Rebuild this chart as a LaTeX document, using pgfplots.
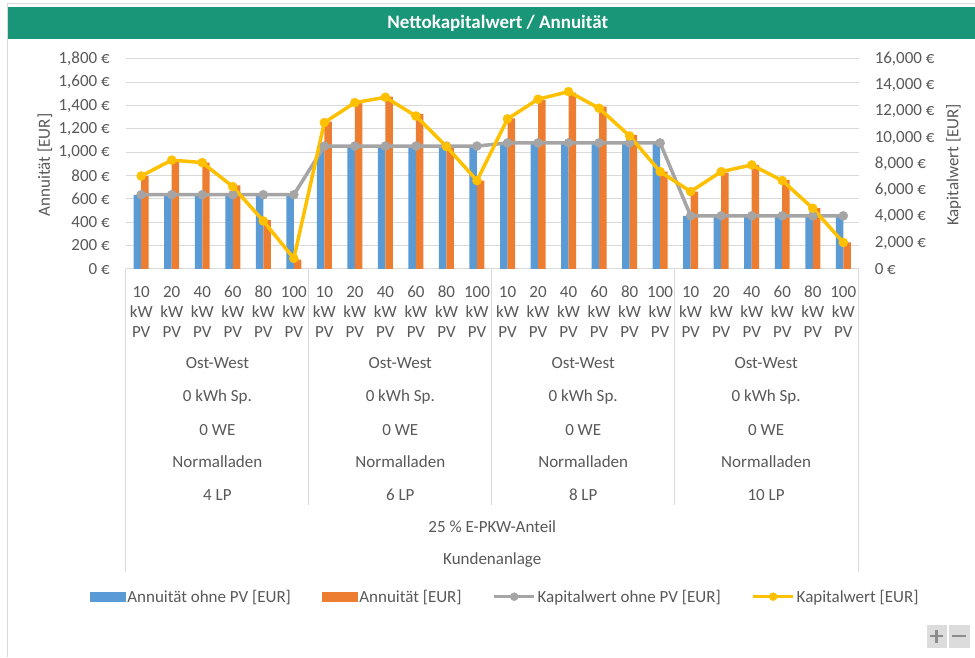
\documentclass[border=0pt]{standalone}
\usepackage{fontspec}
\setmainfont{Carlito}
\usepackage{pgfplots}
\usepackage{pgfplotstable}
\pgfplotsset{compat=1.18}
\definecolor{blueC}{HTML}{5B9BD5}
\definecolor{orangeC}{HTML}{ED7D31}
\definecolor{grayC}{HTML}{A5A5A5}
\definecolor{yellowC}{HTML}{FFC000}
\definecolor{gridC}{HTML}{D9D9D9}
\definecolor{textC}{HTML}{595959}
\definecolor{titleC}{HTML}{199678}
\definecolor{btnC}{HTML}{DCDCDC}
\definecolor{btnG}{HTML}{8C8C8C}

\pgfplotstableread{
idx blue orange gray yellow
0 635 795 5650 7080
1 635 932 5650 8290
2 635 912 5650 8100
3 635 715 5650 6270
4 635 418 5650 3650
5 635 80 5650 800
6 1053 1262 9360 11150
7 1053 1422 9360 12670
8 1053 1477 9360 13080
9 1053 1329 9360 11650
10 1053 1049 9360 9320
11 1053 757 9360 6730
12 1080 1291 9600 11430
13 1080 1449 9600 12930
14 1080 1511 9600 13510
15 1080 1391 9600 12240
16 1080 1149 9600 10130
17 1080 834 9600 7410
18 454 663 4040 5890
19 454 826 4040 7410
20 454 891 4040 7920
21 454 763 4040 6730
22 454 520 4040 4620
23 454 226 4040 2010
}\datatable

\newcommand{\fs}{\fontsize{17}{20}\selectfont}

\begin{document}
\begin{tikzpicture}[x=1pt,y=1pt]
\path[fill=white] (0,0) rectangle (975,657);
\fill[titleC] (7,618) rectangle (975,650);
\draw[gridC,line width=1pt] (7.5,0) -- (7.5,653.5) -- (975,653.5);
\node[text=white, font=\fontsize{19}{22}\selectfont\bfseries] at (498,634) {Nettokapitalwert / Annuität};

\begin{axis}[
  at={(126pt,388pt)}, anchor=south west,
  scale only axis, width=733pt, height=210pt,
  xmin=-0.5, xmax=23.5, ymin=0, ymax=1800,
  ytick={0,200,...,1800},
  xtick={0,...,23},
  xticklabels={{10\\kW\\PV},{20\\kW\\PV},{40\\kW\\PV},{60\\kW\\PV},{80\\kW\\PV},{100\\kW\\PV},
               {10\\kW\\PV},{20\\kW\\PV},{40\\kW\\PV},{60\\kW\\PV},{80\\kW\\PV},{100\\kW\\PV},
               {10\\kW\\PV},{20\\kW\\PV},{40\\kW\\PV},{60\\kW\\PV},{80\\kW\\PV},{100\\kW\\PV},
               {10\\kW\\PV},{20\\kW\\PV},{40\\kW\\PV},{60\\kW\\PV},{80\\kW\\PV},{100\\kW\\PV}},
  xticklabel style={align=center, anchor=north, inner sep=0pt, yshift=-17pt, font=\fs, text=textC},
  yticklabel style={anchor=east, inner sep=0pt, xshift=-16pt, font=\fs, text=textC},
  /pgf/number format/assume math mode=true,
  /pgf/number format/1000 sep={,},
  scaled y ticks=false,
  yticklabel={\pgfmathprintnumber{\tick}~€},
  major tick length=0pt, tick style={draw=none},
  axis x line*=bottom, axis y line*=left,
  separate axis lines,
  x axis line style={draw=gridC, line width=1pt},
  y axis line style={draw=none},
  ymajorgrids, grid style={gridC, line width=1pt},
  ybar=0pt, bar width=7.5pt,
]
\addplot[fill=blueC, draw=none] table[x=idx, y=blue] {\datatable};
\addplot[fill=orangeC, draw=none] table[x=idx, y=orange] {\datatable};
\end{axis}

\begin{axis}[
  at={(126pt,388pt)}, anchor=south west,
  scale only axis, width=733pt, height=210pt,
  xmin=-0.5, xmax=23.5, ymin=0, ymax=16000,
  ytick={0,2000,...,16000},
  axis x line=none, axis y line*=right,
  y axis line style={draw=none},
  yticklabel style={anchor=west, inner sep=0pt, xshift=16pt, font=\fs, text=textC},
  /pgf/number format/assume math mode=true,
  /pgf/number format/1000 sep={,},
  scaled y ticks=false,
  yticklabel={\pgfmathprintnumber{\tick}~€},
  major tick length=0pt, tick style={draw=none},
  legend style={at={(axis description cs:-0.0491,-1.562)}, anchor=west,
    draw=none, fill=none, inner sep=0pt, outer sep=0pt,
    legend columns=4, font=\fs, text=textC,
    nodes={inner sep=0pt},
    /tikz/every odd column/.append style={column sep=2pt},
    /tikz/every even column/.append style={column sep=31pt}},
]
\addlegendimage{legend image code/.code={\fill[blueC] (0pt,-4.5pt) rectangle (35pt,4.5pt);}}
\addlegendentry{Annuität ohne PV [EUR]}
\addlegendimage{legend image code/.code={\fill[orangeC] (0pt,-4.5pt) rectangle (35pt,4.5pt);}}
\addlegendentry{Annuität [EUR]}
\addlegendimage{legend image code/.code={\draw[grayC,line width=3pt] (0pt,0pt)--(40pt,0pt); \fill[grayC] (20pt,0pt) circle (4pt);}}
\addlegendentry{Kapitalwert ohne PV [EUR]}
\addlegendimage{legend image code/.code={\draw[yellowC,line width=3pt] (0pt,0pt)--(40pt,0pt); \fill[yellowC] (20pt,0pt) circle (4pt);}}
\addlegendentry{Kapitalwert [EUR]}
\addplot[grayC, line width=3.5pt, mark=*, mark size=4.5pt, mark options={fill=grayC, draw=grayC, line width=0.5pt}, forget plot] table[x=idx, y=gray] {\datatable};
\addplot[yellowC, line width=3.5pt, mark=*, mark size=4.5pt, mark options={fill=yellowC, draw=yellowC, line width=0.5pt}, forget plot] table[x=idx, y=yellow] {\datatable};
\end{axis}

% axis titles
\node[rotate=90, font=\fs, text=textC] at (45,492) {Annuität [EUR]};
\node[rotate=90, font=\fs, text=textC] at (954,492) {Kapitalwert [EUR]};

% category box lines
\draw[gridC, line width=1pt] (126,388) -- (126,85);
\draw[gridC, line width=1pt] (859,388) -- (859,85);
\foreach \xx in {309,492,675} {\draw[gridC, line width=1pt] (\xx,388) -- (\xx,152);}

% group labels
\foreach \cx/\lp in {217.5/4 LP,400.5/6 LP,583.5/8 LP,766.5/10 LP} {
  \node[font=\fs, text=textC] at (\cx,293.7) {Ost-West};
  \node[font=\fs, text=textC] at (\cx,260.3) {0 kWh Sp.};
  \node[font=\fs, text=textC] at (\cx,227) {0 WE};
  \node[font=\fs, text=textC] at (\cx,195.3) {Normalladen};
  \node[font=\fs, text=textC] at (\cx,162) {\lp};
}
\node[font=\fs, text=textC] at (492.5,130) {25 \% E-PKW-Anteil};
\node[font=\fs, text=textC] at (492.5,97) {Kundenanlage};

% zoom buttons
\fill[btnC] (927,9) rectangle (947,32);
\fill[btnC] (949,9) rectangle (970,32);
\draw[btnG, line width=2.5pt] (937,14) -- (937,27) (930.5,20.5) -- (943.5,20.5);
\draw[btnG, line width=2.5pt] (952.5,20.5) -- (966.5,20.5);
\end{tikzpicture}
\end{document}
